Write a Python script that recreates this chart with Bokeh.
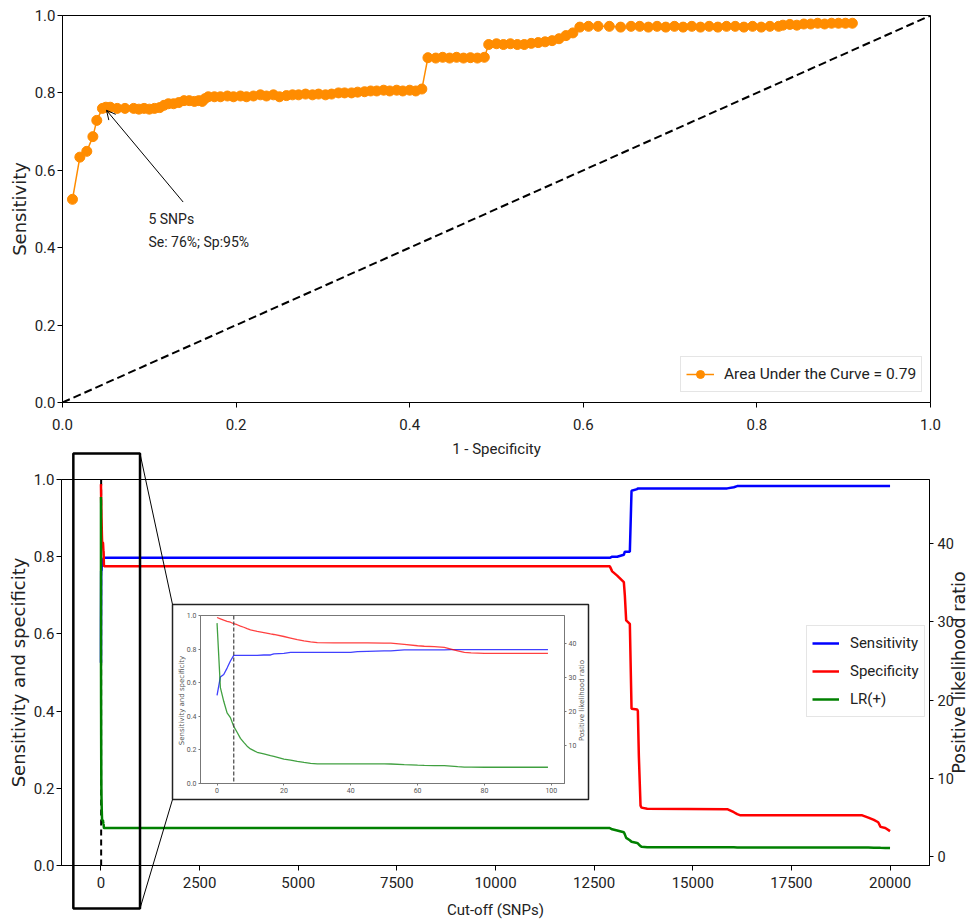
import math
from bokeh.plotting import figure
from bokeh.models import (Range1d, LinearAxis, FixedTicker, PrintfTickFormatter,
                          Legend, LegendItem, Arrow, OpenHead, Label, Span)
from bokeh.embed import file_html
from bokeh.resources import INLINE

# ---------------- data ----------------
ROC_FPR = [0.0115, 0.020, 0.028, 0.035, 0.0395, 0.046, 0.050, 0.055,
           0.063, 0.072, 0.082, 0.088, 0.094, 0.100, 0.106, 0.112,
           0.117, 0.122, 0.128, 0.134, 0.140, 0.146, 0.152, 0.157, 0.161, 0.164,
           0.168, 0.175, 0.182, 0.190, 0.197, 0.205, 0.212, 0.220, 0.228, 0.235,
           0.243, 0.250, 0.258, 0.265, 0.272, 0.280, 0.288, 0.295, 0.303, 0.310,
           0.318, 0.325, 0.333, 0.340, 0.348, 0.355, 0.362, 0.370, 0.377, 0.385,
           0.392, 0.400, 0.407, 0.414,
           0.421, 0.430, 0.438, 0.446, 0.454, 0.462, 0.470, 0.478, 0.486,
           0.491, 0.500, 0.508, 0.516, 0.524, 0.532,
           0.540, 0.548, 0.556, 0.564, 0.572, 0.580, 0.588, 0.596,
           0.606, 0.617, 0.630, 0.643, 0.655, 0.665, 0.675, 0.685, 0.695, 0.705,
           0.715, 0.725, 0.735, 0.745, 0.755, 0.765, 0.775, 0.785, 0.795, 0.805,
           0.815, 0.825,
           0.830, 0.838, 0.846, 0.854, 0.862, 0.870, 0.878, 0.886, 0.894, 0.902, 0.910]
ROC_TPR = [0.525, 0.634, 0.649, 0.687, 0.729, 0.760, 0.763, 0.763,
           0.760, 0.760, 0.760, 0.758, 0.760, 0.758, 0.760, 0.762,
           0.768, 0.772, 0.772, 0.775, 0.780, 0.780, 0.778, 0.780, 0.778, 0.785,
           0.790, 0.790, 0.790, 0.792, 0.790, 0.792, 0.790, 0.792, 0.795, 0.792,
           0.795, 0.790, 0.793, 0.795, 0.795, 0.797, 0.795, 0.797, 0.795, 0.797,
           0.800, 0.800, 0.800, 0.802, 0.803, 0.805, 0.805, 0.807, 0.805, 0.807,
           0.805, 0.807, 0.805, 0.810,
           0.891, 0.890, 0.892, 0.890, 0.892, 0.890, 0.891, 0.890, 0.892,
           0.925, 0.927, 0.925, 0.927, 0.925, 0.925,
           0.928, 0.930, 0.932, 0.935, 0.940, 0.948, 0.955, 0.970,
           0.972, 0.972, 0.972, 0.970, 0.972, 0.972, 0.970, 0.972, 0.970, 0.972,
           0.970, 0.972, 0.970, 0.972, 0.970, 0.972, 0.972, 0.970, 0.972, 0.970,
           0.972, 0.972,
           0.975, 0.977, 0.975, 0.978, 0.978, 0.980, 0.978, 0.980, 0.980, 0.980, 0.980]
DIAG = [0.0, 1.0]
AUC_LABEL = "Area Under the Curve = 0.79"
NOTE_LINE1 = "5 SNPs"
NOTE_LINE2 = "Se: 76%; Sp:95%"

CUTOFF = [0, 1, 2, 3, 4, 5, 6, 7, 8, 9, 10, 12, 14, 16, 17, 20, 22, 24, 26, 28,
          30, 35, 40, 42, 45, 50, 52, 56, 60, 62, 65, 68, 70, 72, 74, 76, 80, 90, 99,
          12898, 12958, 13084, 13253, 13278, 13312, 13405, 13448, 13591, 13608,
          13633, 13676, 13701, 13845, 15873, 16041, 16126, 16210, 19295, 19450,
          19590, 19700, 19759, 19880, 20000]
SENS = [0.525, 0.634, 0.649, 0.687, 0.729, 0.763, 0.763, 0.763, 0.763, 0.763,
        0.763, 0.763, 0.765, 0.765, 0.772, 0.775, 0.780, 0.780, 0.780, 0.780,
        0.780, 0.780, 0.780, 0.785, 0.787, 0.790, 0.790, 0.795, 0.795, 0.795,
        0.795, 0.795, 0.797, 0.797, 0.797, 0.797, 0.797, 0.797, 0.797,
        0.797, 0.800, 0.800, 0.805, 0.813, 0.813, 0.813, 0.971, 0.975, 0.977,
        0.977, 0.977, 0.977, 0.977, 0.977, 0.980, 0.983, 0.983, 0.983, 0.983,
        0.983, 0.983, 0.983, 0.983, 0.983]
SPEC = [0.988, 0.980, 0.972, 0.965, 0.960, 0.951, 0.945, 0.937, 0.930, 0.922,
        0.915, 0.905, 0.898, 0.890, 0.887, 0.875, 0.866, 0.857, 0.849, 0.843,
        0.838, 0.837, 0.837, 0.837, 0.837, 0.836, 0.835, 0.828, 0.820, 0.817,
        0.815, 0.810, 0.800, 0.790, 0.780, 0.777, 0.775, 0.775, 0.775,
        0.775, 0.762, 0.751, 0.734, 0.700, 0.635, 0.626, 0.406, 0.404, 0.400,
        0.285, 0.155, 0.150, 0.147, 0.146, 0.138, 0.133, 0.130, 0.130, 0.124,
        0.118, 0.112, 0.100, 0.097, 0.089]
LR_POS = [46.0, 27.0, 23.0, 19.6, 18.2, 15.6, 13.9, 12.1, 10.9, 9.8,
          9.0, 8.0, 7.5, 7.0, 6.8, 6.0, 5.7, 5.3, 5.0, 4.75,
          4.6, 4.6, 4.6, 4.6, 4.6, 4.6, 4.55, 4.35, 4.2, 4.15,
          4.1, 4.05, 3.9, 3.75, 3.65, 3.62, 3.6, 3.6, 3.6,
          3.6, 3.45, 3.3, 3.07, 2.8, 2.35, 2.05, 1.85, 1.7, 1.65,
          1.5, 1.3, 1.22, 1.15, 1.15, 1.14, 1.13, 1.12, 1.12, 1.11,
          1.1, 1.09, 1.08, 1.07, 1.06]
SERIES_NAMES = ["Sensitivity", "Specificity", "LR(+)"]
LR_AXIS_LABEL = "Positive likelihood ratio"
SS_AXIS_LABEL = "Sensitivity and specificity"
CHOSEN_CUTOFF = 5
INSET_MAX_CUTOFF = 99
UNIT_TICKS = [0.0, 0.2, 0.4, 0.6, 0.8, 1.0]
CUTOFF_TICKS = [0, 2500, 5000, 7500, 10000, 12500, 15000, 17500, 20000]
LR_TICKS = [0, 10, 20, 30, 40]
INSET_X_TICKS = [0, 20, 40, 60, 80, 100]
INSET_LR_TICKS = [10, 20, 30, 40]

assert len(ROC_FPR) == len(ROC_TPR)
assert len(CUTOFF) == len(SENS) == len(SPEC) == len(LR_POS)


def padded(lo, hi, frac=0.05):
    s = hi - lo
    return (lo - frac * s, hi + frac * s)


CUT_RANGE = padded(min(CUTOFF), max(CUTOFF))
LR_RANGE = padded(min(LR_POS), max(LR_POS))
INS = [i for i, c in enumerate(CUTOFF) if c <= INSET_MAX_CUTOFF]
INS_CUT = [CUTOFF[i] for i in INS]
INS_RANGE = padded(min(INS_CUT), max(INS_CUT))

# ---------------- layout (page pixels; Bokeh's page template has no body margin) ----
PAGE = 0
FIG_W = 972
TOP_H = 460
BOT_H = 463
TOP_FRAME = dict(left=62, right=930, top=15, bottom=402)
BOT_FRAME = dict(left=61, right=929, top=479, bottom=865)
INSET_BOX = dict(left=172, right=588, top=604, bottom=799)
INSET_FRAME = dict(left=200, right=564, top=615, bottom=783)
ZOOM_CUTOFFS = (-700, 990)
ZOOM_TOP_PX, ZOOM_BOTTOM_PX = 453, 908
LR_LABEL_PX = (958, 672)
INSET_LR_LABEL_PX = (581, 700)
INSET_SS_LABEL_PX = (181, 700)
OVERLAY_TOP = 449
BOT_Y0 = PAGE + TOP_H
BOTTOM_END = BOT_Y0 + BOT_H

TICK_FONT = "Roboto"
ROT_FONT = "DejaVu Sans"
TXT = "#222222"


def style_common(p):
    p.xgrid.grid_line_color = None
    p.ygrid.grid_line_color = None
    p.outline_line_color = "black"
    p.outline_line_width = 1
    p.background_fill_color = "white"
    p.border_fill_color = "white"


def style_axis(ax, tick_size="15px", label_font=TICK_FONT, label_size="15px",
               tick_out=5, standoff=7, label_standoff=7):
    ax.major_label_text_font = TICK_FONT
    ax.major_label_text_font_size = tick_size
    ax.major_label_text_color = TXT
    ax.axis_label_text_font = label_font
    ax.axis_label_text_font_size = label_size
    ax.axis_label_text_font_style = "normal"
    ax.axis_label_text_color = TXT
    ax.major_tick_out = tick_out
    ax.major_tick_in = 0
    ax.minor_tick_line_color = None
    ax.axis_line_color = "black"
    ax.major_tick_line_color = "black"
    ax.major_label_standoff = standoff
    ax.axis_label_standoff = label_standoff


# ---------------- top: ROC curve ----------------
p1 = figure(width=FIG_W, height=TOP_H, x_range=Range1d(0, 1), y_range=Range1d(0, 1),
            output_backend="svg", toolbar_location=None,
            min_border_left=TOP_FRAME["left"] - PAGE,
            min_border_right=PAGE + FIG_W - TOP_FRAME["right"],
            min_border_top=TOP_FRAME["top"] - PAGE,
            min_border_bottom=PAGE + TOP_H - TOP_FRAME["bottom"])
style_common(p1)
p1.xaxis.ticker = FixedTicker(ticks=UNIT_TICKS)
p1.yaxis.ticker = FixedTicker(ticks=UNIT_TICKS)
p1.xaxis.formatter = PrintfTickFormatter(format="%.1f")
p1.yaxis.formatter = PrintfTickFormatter(format="%.1f")
style_axis(p1.xaxis[0], standoff=11, label_standoff=7)
style_axis(p1.yaxis[0], label_font=ROT_FONT, label_size="18px", standoff=2, label_standoff=2)
p1.xaxis.axis_label = "1 - Specificity"
p1.yaxis.axis_label = "Sensitivity"

p1.line(DIAG, DIAG, line_color="black", line_dash="8 4", line_width=2)
roc_line = p1.line(ROC_FPR, ROC_TPR, line_color="darkorange", line_width=1.5)
roc_pts = p1.scatter(ROC_FPR, ROC_TPR, size=10, fill_color="darkorange",
                     line_color="darkorange")
leg1 = Legend(items=[LegendItem(label=AUC_LABEL, renderers=[roc_line, roc_pts])],
              location=(618, 10), padding=5, label_height=24, glyph_height=20,
              glyph_width=28, label_standoff=10, margin=0,
              label_text_font=TICK_FONT, label_text_font_size="15.5px",
              label_text_color=TXT, border_line_color="#cccccc",
              background_fill_alpha=0.85)
p1.add_layout(leg1)

p1.add_layout(Arrow(end=OpenHead(size=9, line_width=1, line_color="black"),
                    x_start=0.139, y_start=0.518, x_end=0.0507, y_end=0.755,
                    line_width=1, line_color="black"))
p1.add_layout(Label(x=0.099, y=0.475, text=NOTE_LINE1, text_baseline="middle",
                    text_font=TICK_FONT, text_font_size="14px", text_color=TXT))
p1.add_layout(Label(x=0.099, y=0.414, text=NOTE_LINE2, text_baseline="middle",
                    text_font=TICK_FONT, text_font_size="14px", text_color=TXT))

# ---------------- bottom: curves vs cut-off ----------------
p2 = figure(width=FIG_W, height=BOT_H, x_range=Range1d(*CUT_RANGE),
            y_range=Range1d(0, 1), output_backend="svg", toolbar_location=None,
            min_border_left=BOT_FRAME["left"] - PAGE,
            min_border_right=PAGE + FIG_W - BOT_FRAME["right"],
            min_border_top=BOT_FRAME["top"] - BOT_Y0,
            min_border_bottom=BOTTOM_END - BOT_FRAME["bottom"])
style_common(p2)
p2.extra_y_ranges = {"lr": Range1d(*LR_RANGE)}
p2.xaxis.ticker = FixedTicker(ticks=CUTOFF_TICKS)
p2.yaxis.ticker = FixedTicker(ticks=UNIT_TICKS)
p2.yaxis.formatter = PrintfTickFormatter(format="%.1f")
style_axis(p2.xaxis[0], standoff=6, label_standoff=10)
style_axis(p2.yaxis[0], label_font=ROT_FONT, label_size="18px", standoff=2, label_standoff=2)
p2.xaxis.axis_label = "Cut-off (SNPs)"
p2.yaxis.axis_label = SS_AXIS_LABEL
rax = LinearAxis(y_range_name="lr", ticker=FixedTicker(ticks=LR_TICKS))
style_axis(rax, tick_size="14.5px", tick_out=4, standoff=4, label_standoff=0)
p2.add_layout(rax, "right")

p2.add_layout(Span(location=CHOSEN_CUTOFF, dimension="height", line_color="black",
                   line_dash="6 4", line_width=2, level="underlay"))
rs = p2.line(CUTOFF, SENS, line_color="blue", line_width=2.5)
rp = p2.line(CUTOFF, SPEC, line_color="red", line_width=2.5)
rl = p2.line(CUTOFF, LR_POS, line_color="green", line_width=2.5, y_range_name="lr")
leg2 = Legend(items=[LegendItem(label=SERIES_NAMES[0], renderers=[rs]),
                     LegendItem(label=SERIES_NAMES[1], renderers=[rp]),
                     LegendItem(label=SERIES_NAMES[2], renderers=[rl])],
              location=(745, 148), padding=5, label_height=24, glyph_height=20,
              glyph_width=27, label_standoff=11, spacing=4, margin=0,
              label_text_font=TICK_FONT, label_text_font_size="15px",
              label_text_color=TXT, border_line_color="#cccccc",
              background_fill_alpha=0.85)
p2.add_layout(leg2)

# ---------------- inset: first cut-offs ----------------
ins_w = INSET_BOX["right"] - INSET_BOX["left"]
ins_h = INSET_BOX["bottom"] - INSET_BOX["top"]
p3 = figure(width=ins_w, height=ins_h, x_range=Range1d(*INS_RANGE), y_range=Range1d(0, 1),
            output_backend="svg", toolbar_location=None,
            min_border_left=INSET_FRAME["left"] - INSET_BOX["left"],
            min_border_right=INSET_BOX["right"] - INSET_FRAME["right"],
            min_border_top=INSET_FRAME["top"] - INSET_BOX["top"],
            min_border_bottom=INSET_BOX["bottom"] - INSET_FRAME["bottom"])
style_common(p3)
p3.outline_line_color = "#777777"
p3.extra_y_ranges = {"lr": Range1d(*LR_RANGE)}
p3.xaxis.ticker = FixedTicker(ticks=INSET_X_TICKS)
p3.yaxis.ticker = FixedTicker(ticks=UNIT_TICKS)
p3.yaxis.formatter = PrintfTickFormatter(format="%.1f")
rax3 = LinearAxis(y_range_name="lr", ticker=FixedTicker(ticks=INSET_LR_TICKS))
p3.add_layout(rax3, "right")
for ax in [p3.xaxis[0], p3.yaxis[0], rax3]:
    style_axis(ax, tick_size="7px", label_font=ROT_FONT, label_size="7px",
               tick_out=2, standoff=2, label_standoff=0)
    ax.axis_line_color = "#777777"
    ax.major_tick_line_color = "#777777"
    ax.major_label_text_color = "#555555"
    ax.axis_label_text_color = "#555555"
p3.line(INS_CUT, [SENS[i] for i in INS], line_color="blue", line_width=1.3, line_alpha=0.75)
p3.line(INS_CUT, [SPEC[i] for i in INS], line_color="red", line_width=1.3, line_alpha=0.75)
p3.line(INS_CUT, [LR_POS[i] for i in INS], line_color="green", line_width=1.3,
        line_alpha=0.75, y_range_name="lr")
p3.add_layout(Span(location=CHOSEN_CUTOFF, dimension="height", line_color="#444444",
                   line_dash="4 2", line_width=1.2))
p3.margin = (INSET_BOX["top"] - BOTTOM_END, 0, 0, INSET_BOX["left"] - PAGE)

# ---------------- overlay: zoom box, connectors, axis titles ----------------
def cut_to_px(v):
    return BOT_FRAME["left"] + (v - CUT_RANGE[0]) / (CUT_RANGE[1] - CUT_RANGE[0]) * (
        BOT_FRAME["right"] - BOT_FRAME["left"])


p4 = figure(width=FIG_W, height=BOTTOM_END - OVERLAY_TOP,
            x_range=Range1d(PAGE, PAGE + FIG_W), y_range=Range1d(BOTTOM_END, OVERLAY_TOP),
            x_axis_type=None, y_axis_type=None, output_backend="svg", toolbar_location=None,
            min_border=0, min_border_left=0, min_border_right=0, min_border_top=0,
            min_border_bottom=0)
p4.background_fill_color = None
p4.border_fill_color = None
p4.outline_line_color = None
zx0, zx1 = cut_to_px(ZOOM_CUTOFFS[0]), cut_to_px(ZOOM_CUTOFFS[1])
p4.quad(left=[zx0], right=[zx1], top=[ZOOM_TOP_PX], bottom=[ZOOM_BOTTOM_PX],
        fill_color=None, line_color="black", line_width=2.5)
p4.quad(left=[INSET_BOX["left"]], right=[INSET_BOX["right"]], top=[INSET_BOX["top"]],
        bottom=[INSET_BOX["bottom"]], fill_color=None, line_color="#222222", line_width=1.5)
p4.segment(x0=[zx1, zx1], y0=[ZOOM_TOP_PX, ZOOM_BOTTOM_PX],
           x1=[INSET_BOX["left"], INSET_BOX["left"]], y1=[INSET_BOX["top"], INSET_BOX["bottom"]],
           line_color="black", line_width=1)
p4.add_layout(Label(x=LR_LABEL_PX[0], y=LR_LABEL_PX[1], text=LR_AXIS_LABEL, angle=math.pi / 2,
                    text_align="center", text_baseline="middle", text_font=ROT_FONT,
                    text_font_size="17.5px", text_color=TXT))
p4.add_layout(Label(x=INSET_LR_LABEL_PX[0], y=INSET_LR_LABEL_PX[1], text=LR_AXIS_LABEL,
                    angle=math.pi / 2, text_align="center", text_baseline="middle",
                    text_font=ROT_FONT, text_font_size="7px", text_color="#555555"))
p4.add_layout(Label(x=INSET_SS_LABEL_PX[0], y=INSET_SS_LABEL_PX[1], text=SS_AXIS_LABEL,
                    angle=math.pi / 2, text_align="center", text_baseline="middle",
                    text_font=ROT_FONT, text_font_size="7px", text_color="#555555"))
p4.margin = (OVERLAY_TOP - INSET_BOX["bottom"], 0, 0, 0)

open("out.html", "w").write(file_html([p1, p2, p3, p4], INLINE))
